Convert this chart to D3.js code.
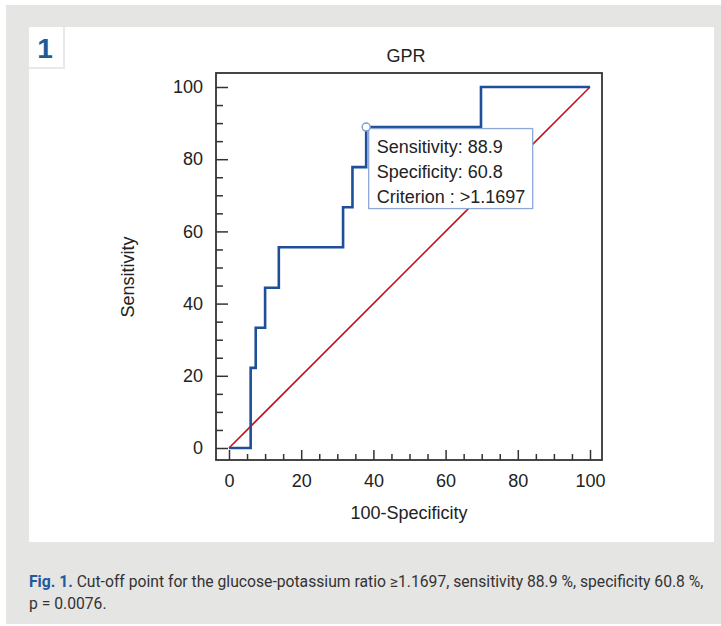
<!DOCTYPE html>
<html>
<head>
<meta charset="utf-8">
<script src="https://cdn.jsdelivr.net/npm/d3@7"></script>
<style>
  body { margin: 0; background: #fff; }
  svg text { font-family: "Liberation Sans", Arial, sans-serif; fill: #222; }
</style>
</head>
<body>
<div id="chart"></div>
<script>
// ROC curve (100-Specificity vs Sensitivity)
const fprPoints = [0, 6.0, 7.4, 10.0, 13.8, 31.6, 34.2, 38.0, 69.8, 100];
const sensPoints = [0, 22.2, 33.3, 44.4, 55.6, 66.7, 77.8, 88.9, 100, 100];
const diagonal = [0, 100];
const majorTicks = [0, 20, 40, 60, 80, 100];
const minorTicks = d3.range(0, 101, 5).filter(d => d % 20 !== 0);
const cutoff = { fpr: 38.0, sens: 88.9 };
const boxLines = ["Sensitivity: 88.9", "Specificity: 60.8", "Criterion : >1.1697"];
const title = "GPR";
const xTitle = "100-Specificity";
const yTitle = "Sensitivity";
const captionLead = "Fig. 1.";
const captionLines = [
    " Cut-off point for the glucose-potassium ratio \u22651.1697, sensitivity 88.9 %, specificity 60.8 %,",
    "p = 0.0076."
];

const W = 721, H = 626;
const svg = d3.select("#chart").append("svg")
    .attr("width", W).attr("height", H);

// page frame
svg.append("rect").attr("x", 6).attr("y", 5).attr("width", W - 6).attr("height", H - 7)
    .attr("fill", "#e5e5e4");
svg.append("rect").attr("x", 29).attr("y", 27).attr("width", 685).attr("height", 515)
    .attr("fill", "#fff");

// figure number badge
svg.append("path").attr("d", "M64,27V68H29")
    .attr("fill", "none").attr("stroke", "#e9e9e8").attr("stroke-width", 2);
svg.append("text").attr("x", 45).attr("y", 57.5)
    .attr("text-anchor", "middle")
    .style("font-size", "28px").style("font-weight", "bold").style("fill", "#1d5b9b")
    .text("1");

// plot area
const frame = { left: 216, top: 73, right: 602, bottom: 460 };
const x = d3.scaleLinear().domain([0, 100]).range([229, 590]);
const y = d3.scaleLinear().domain([0, 100]).range([448, 87]);

const g = svg.append("g");

// diagonal reference line
g.append("line")
    .attr("x1", x(diagonal[0])).attr("y1", y(diagonal[0]))
    .attr("x2", x(diagonal[1])).attr("y2", y(diagonal[1]))
    .attr("stroke", "#c4161c").attr("stroke-width", 1.6);

// ROC step curve
const rocData = fprPoints.map((d, i) => [d, sensPoints[i]]);
g.append("path")
    .datum(rocData)
    .attr("fill", "none")
    .attr("stroke", "#1f4f99")
    .attr("stroke-width", 2.6)
    .attr("d", d3.line().x(d => x(d[0])).y(d => y(d[1])).curve(d3.curveStepAfter));

// axes: ticks drawn inside the frame
const yAxis = g.append("g").attr("transform", `translate(${frame.left},0)`)
    .call(d3.axisLeft(y).tickValues(majorTicks).tickSizeInner(-12).tickSizeOuter(0).tickPadding(13));
const yMinor = g.append("g").attr("transform", `translate(${frame.left},0)`)
    .call(d3.axisLeft(y).tickValues(minorTicks).tickSizeInner(-7).tickSizeOuter(0).tickFormat(""));
const xAxis = g.append("g").attr("transform", `translate(0,${frame.bottom})`)
    .call(d3.axisBottom(x).tickValues(majorTicks).tickSizeInner(-10).tickSizeOuter(0).tickPadding(14));
const xMinor = g.append("g").attr("transform", `translate(0,${frame.bottom})`)
    .call(d3.axisBottom(x).tickValues(minorTicks).tickSizeInner(-6).tickSizeOuter(0).tickFormat(""));

[yAxis, yMinor, xAxis, xMinor].forEach(a => {
    a.select(".domain").remove();
    a.selectAll("line").attr("stroke", "#333").attr("stroke-width", 1.5);
    a.selectAll("text").style("font-size", "18px").style("font-family", "'Liberation Sans', Arial, sans-serif").attr("fill", "#222");
});

// frame box
g.append("rect")
    .attr("x", frame.left).attr("y", frame.top)
    .attr("width", frame.right - frame.left).attr("height", frame.bottom - frame.top)
    .attr("fill", "none").attr("stroke", "#333").attr("stroke-width", 1.8);

// cut-off annotation box
const bx = x(cutoff.fpr) + 2.5, by = y(cutoff.sens) + 1.5;
g.append("rect")
    .attr("x", bx).attr("y", by).attr("width", 164).attr("height", 80)
    .attr("fill", "#fff").attr("stroke", "#8ea8d8").attr("stroke-width", 1.3);
g.selectAll(".boxline")
    .data(boxLines)
    .enter().append("text")
    .attr("class", "boxline")
    .attr("x", bx + 8)
    .attr("y", (d, i) => by + 24.5 + i * 25)
    .style("font-size", "18px")
    .text(d => d);

// cut-off marker
g.append("circle")
    .attr("cx", x(cutoff.fpr)).attr("cy", y(cutoff.sens)).attr("r", 4)
    .attr("fill", "#fff").attr("stroke", "#7f9cd4").attr("stroke-width", 1.4);

// titles
svg.append("text").attr("x", 406).attr("y", 62)
    .attr("text-anchor", "middle").style("font-size", "18px").text(title);
svg.append("text").attr("x", 409).attr("y", 519)
    .attr("text-anchor", "middle").style("font-size", "18px").text(xTitle);
svg.append("text")
    .attr("transform", "translate(134,277) rotate(-90)")
    .attr("text-anchor", "middle").style("font-size", "18px").text(yTitle);

// caption
const cap = svg.append("text")
    .attr("x", 29).attr("y", 587)
    .style("font-family", "'Liberation Sans Narrow', 'Roboto', sans-serif")
    .style("font-size", "15.7px");
cap.append("tspan").style("font-weight", "bold").style("fill", "#1d5b9b").text(captionLead);
cap.append("tspan").style("fill", "#333").text(captionLines[0]);
svg.append("text")
    .attr("x", 29).attr("y", 609)
    .style("font-family", "'Liberation Sans Narrow', 'Roboto', sans-serif")
    .style("font-size", "15.7px").style("fill", "#333")
    .text(captionLines[1]);
</script>
</body>
</html>
